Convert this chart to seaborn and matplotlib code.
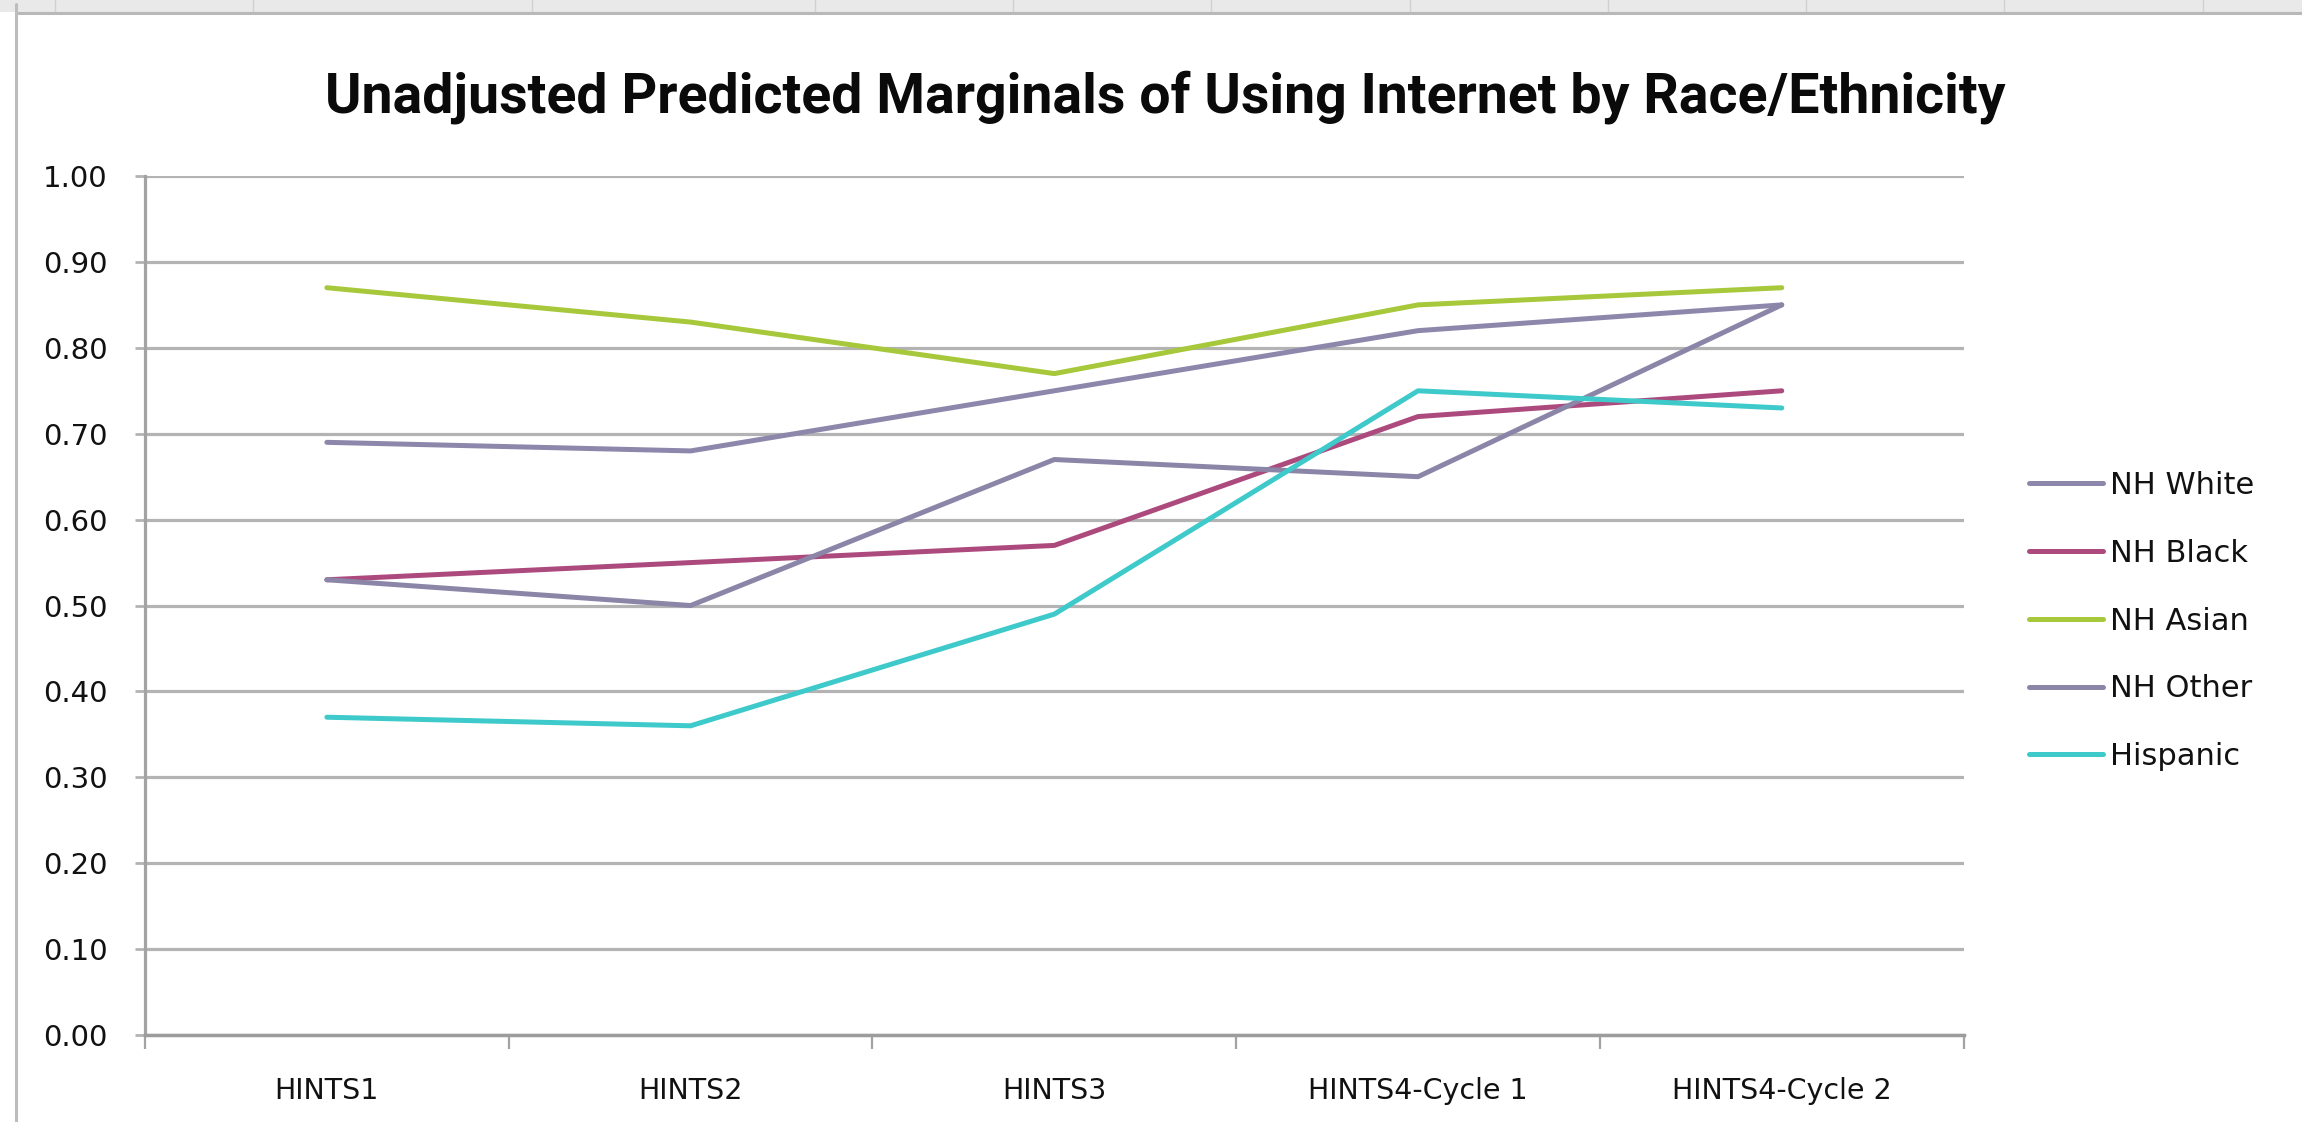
import matplotlib
matplotlib.use("Agg")
import matplotlib.pyplot as plt
from matplotlib.lines import Line2D
from matplotlib.patches import Rectangle
from matplotlib.ticker import FormatStrFormatter
import seaborn as sns
import pandas as pd

# Survey waves (x categories) and race/ethnicity groups
waves = ["HINTS1", "HINTS2", "HINTS3", "HINTS4-Cycle 1", "HINTS4-Cycle 2"]
groups = ["NH White", "NH Black", "NH Asian", "NH Other", "Hispanic"]

# Unadjusted predicted marginals of internet use per wave
nh_white = [0.69, 0.68, 0.75, 0.82, 0.85]
nh_black = [0.53, 0.55, 0.57, 0.72, 0.75]
nh_asian = [0.87, 0.83, 0.77, 0.85, 0.87]
nh_other = [0.53, 0.50, 0.67, 0.65, 0.85]
hispanic = [0.37, 0.36, 0.49, 0.75, 0.73]

y_ticks = [0.0, 0.1, 0.2, 0.3, 0.4, 0.5, 0.6, 0.7, 0.8, 0.9, 1.0]

title = "Unadjusted Predicted Marginals of Using Internet by Race/Ethnicity"

palette = {
    "NH White": "#8D87AC",
    "NH Black": "#AC4A7E",
    "NH Asian": "#A6C83A",
    "NH Other": "#8B85A8",
    "Hispanic": "#3EC9CA",
}

series = [nh_white, nh_black, nh_asian, nh_other, hispanic]
df = pd.DataFrame({
    "wave": waves * len(groups),
    "group": [g for g in groups for _ in waves],
    "value": [v for s in series for v in s],
})

sns.set_theme(style="white")
plt.rcParams["font.family"] = ["DejaVu Sans"]

fig = plt.figure(figsize=(23.02, 11.22), dpi=100)
ax = fig.add_axes([0.063, 0.0775, 0.790, 0.7656])

sns.lineplot(
    data=df, x="wave", y="value", hue="group", hue_order=groups,
    palette=palette, sort=False, estimator=None, linewidth=3.6, ax=ax,
)

handles, labels = ax.get_legend_handles_labels()
if ax.legend_ is not None:
    ax.legend_.remove()

grid_gray = "#B3B3B3"
axis_gray = "#A3A3A3"

ax.set_ylim(0, 1.0)
ax.set_xlim(-0.5, len(waves) - 0.5)
ax.set_yticks(y_ticks)
ax.yaxis.set_major_formatter(FormatStrFormatter("%.2f"))
ax.set_xticks(range(len(waves)))
ax.set_xticklabels(waves)
ax.set_xticks([i - 0.5 for i in range(len(waves) + 1)], minor=True)
ax.set_xlabel("")
ax.set_ylabel("")

ax.yaxis.grid(True, color=grid_gray, linewidth=2.3)
ax.xaxis.grid(False)
ax.set_axisbelow(True)

for side in ("top", "right"):
    ax.spines[side].set_visible(False)
ax.spines["left"].set_color(axis_gray)
ax.spines["left"].set_linewidth(2.3)
ax.spines["bottom"].set_color("#9C9C9C")
ax.spines["bottom"].set_linewidth(2.5)

ax.tick_params(axis="y", which="major", length=7, width=2.0, color=grid_gray,
               direction="out", pad=20, labelsize=21, labelcolor="#111111",
               left=True)
ax.tick_params(axis="x", which="major", length=0, pad=30, labelsize=20.5,
               labelcolor="#111111")
ax.tick_params(axis="x", which="minor", length=10, width=1.6, color=axis_gray,
               direction="out", bottom=True)

leg = fig.legend(
    handles, labels, loc="center left", bbox_to_anchor=(0.8815, 0.4465),
    frameon=False, fontsize=22, handlelength=2.4, handletextpad=0.25,
    labelspacing=1.27, borderpad=0, borderaxespad=0,
)
for line in leg.get_lines():
    line.set_linewidth(3.6)
for txt in leg.get_texts():
    txt.set_color("#111111")

fig.text(0.506, 0.900, title, ha="center", va="baseline", fontsize=40,
         fontweight="bold", family=["Roboto", "DejaVu Sans"], color="#0A0A0A")

# Spreadsheet frame around the chart object
fig.add_artist(Rectangle((0, 1 - 12 / 1122), 1, 12 / 1122, transform=fig.transFigure,
                         facecolor="#E9E9E9", edgecolor="none"))
for xc in [55, 253, 532, 815, 1013, 1211, 1410, 1608, 1806, 2004, 2203]:
    fig.add_artist(Line2D([xc / 2302, xc / 2302], [1 - 12 / 1122, 1],
                          transform=fig.transFigure, color="#D0D0D0", linewidth=1))
fig.add_artist(Line2D([16 / 2302, 1], [1 - 13 / 1122, 1 - 13 / 1122],
                      transform=fig.transFigure, color="#B8B8B8", linewidth=2.2))
fig.add_artist(Line2D([16 / 2302, 16 / 2302], [0, 1 - 4 / 1122],
                      transform=fig.transFigure, color="#BDBDBD", linewidth=2.2))

fig.savefig("out.png", dpi=100)
